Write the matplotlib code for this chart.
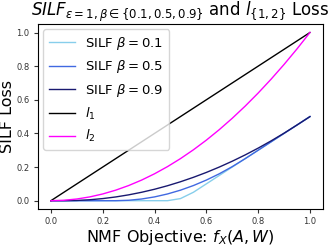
import matplotlib
matplotlib.use("Agg")
import matplotlib.pyplot as plt

# valores (paso 0.05)
x = [0.0, 0.05, 0.1, 0.15, 0.2, 0.25, 0.3, 0.35, 0.4, 0.45, 0.5,
     0.55, 0.6, 0.65, 0.7, 0.75, 0.8, 0.85, 0.9, 0.95, 1.0]
silf_01 = [0, 0, 0, 0, 0, 0, 0, 0, 0, 0, 0.0125,
           0.05, 0.10, 0.15, 0.20, 0.25, 0.30, 0.35, 0.40, 0.45, 0.50]
silf_05 = [0, 0, 0, 0, 0, 0, 0.0025, 0.01, 0.0225, 0.04, 0.0625,
           0.09, 0.1225, 0.16, 0.2025, 0.25, 0.30, 0.35, 0.40, 0.45, 0.50]
silf_09 = [0, 0, 0.0014, 0.0056, 0.0125, 0.0222, 0.0347, 0.05, 0.068, 0.0889, 0.1125,
           0.1389, 0.168, 0.2, 0.2347, 0.2722, 0.3125, 0.3556, 0.4014, 0.45, 0.50]
l1 = [0.0, 0.05, 0.1, 0.15, 0.2, 0.25, 0.3, 0.35, 0.4, 0.45, 0.5,
      0.55, 0.6, 0.65, 0.7, 0.75, 0.8, 0.85, 0.9, 0.95, 1.0]
l2 = [0, 0.0025, 0.01, 0.0225, 0.04, 0.0625, 0.09, 0.1225, 0.16, 0.2025, 0.25,
      0.3025, 0.36, 0.4225, 0.49, 0.5625, 0.64, 0.7225, 0.81, 0.9025, 1.0]

fig = plt.figure(figsize=(3.36, 2.46), dpi=100)
ax = fig.add_axes([0.113, 0.150, 0.848, 0.752])

ax.plot(x, silf_01, color="skyblue", lw=1, label=r"SILF $\beta=0.1$")
ax.plot(x, silf_05, color="royalblue", lw=1, label=r"SILF $\beta=0.5$")
ax.plot(x, silf_09, color="midnightblue", lw=1, label=r"SILF $\beta=0.9$")
ax.plot(x, l1, color="black", lw=1, label=r"$l_1$")
ax.plot(x, l2, color="magenta", lw=1, label=r"$l_2$")

ax.set_xticks([0.0, 0.2, 0.4, 0.6, 0.8, 1.0])
ax.set_yticks([0.0, 0.2, 0.4, 0.6, 0.8, 1.0])
ax.tick_params(labelsize=6, length=3, pad=3, colors="#333333")
ax.set_xlabel(r"NMF Objective: $f_X(A, W)$", fontsize=11.5, labelpad=1)
ax.set_ylabel("SILF Loss", fontsize=11.5, labelpad=1)
ax.set_title(r"$SILF_{\epsilon=1, \beta\in\{0.1, 0.5, 0.9\}}$ and $l_{\{1, 2\}}$ Loss",
             fontsize=12, pad=1.5)
ax.legend(loc="upper left", fontsize=9.5, handlelength=2.0, borderaxespad=0.4,
          labelspacing=0.5)

fig.savefig("out.png", dpi=100)
